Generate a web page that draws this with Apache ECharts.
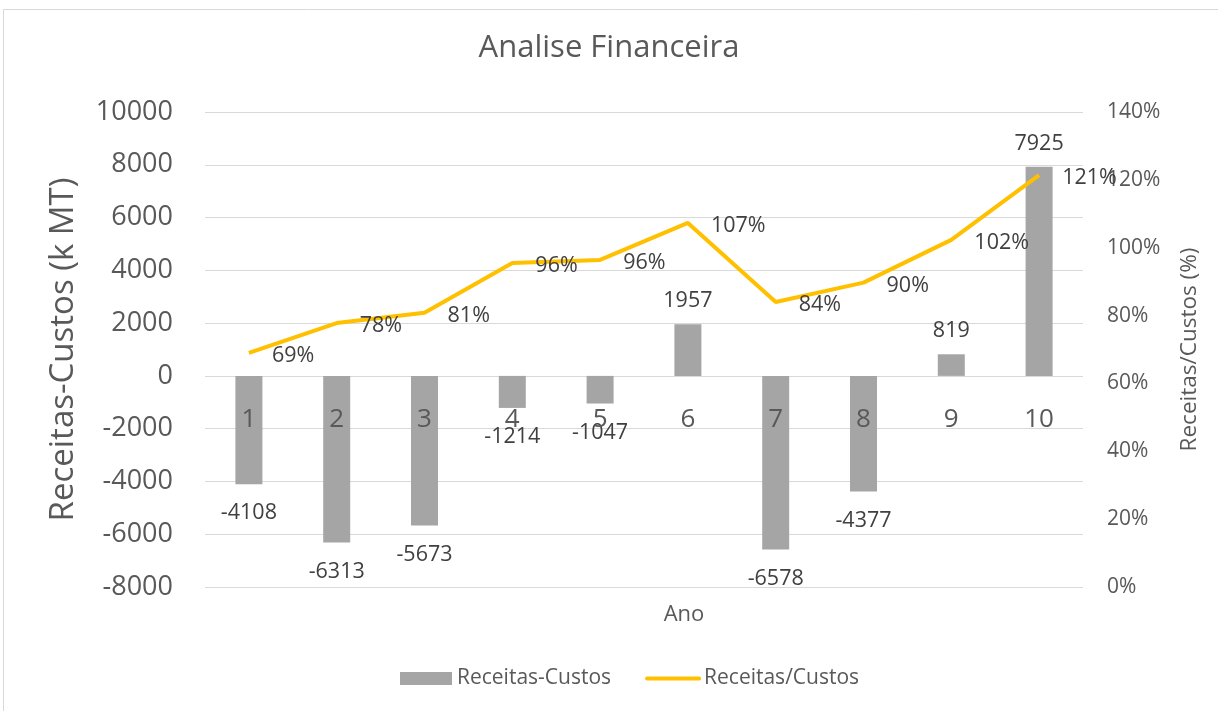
<!DOCTYPE html>
<html>
<head>
    <meta charset="utf-8"/>
    <style type="text/css">
        body, html {
            width: 100%;
            height: 100%;
            margin: 0;
            background: #fff;
        }

        #chart {
            width: 1218px;
            height: 711px;
        }
    </style>
    <script src="https://cdn.jsdelivr.net/npm/echarts@6/dist/echarts.min.js"></script>
    <title>Analise Financeira</title>
</head>
<body>
<div id="chart"></div>
<script type="text/javascript">
    // dados
    var anos = ['1', '2', '3', '4', '5', '6', '7', '8', '9', '10'];
    var saldo = [-4108, -6313, -5673, -1214, -1047, 1957, -6578, -4377, 819, 7925];
    var racio = [0.69, 0.778, 0.808, 0.955, 0.964, 1.073, 0.84, 0.897, 1.023, 1.214];

    var fonte = '"Open Sans", Lato, sans-serif';
    var cinza = '#595959';

    var barData = saldo.map(function (v) {
        return {
            value: v,
            label: {position: v < 0 ? 'bottom' : 'top', distance: v < 0 ? 18 : 12}
        };
    });

    var myChart = echarts.init(document.getElementById('chart'));
    var option = {
        textStyle: {fontFamily: fonte},
        title: {
            text: 'Analise Financeira',
            left: 'center',
            top: 28,
            textStyle: {fontSize: 31, fontWeight: 'normal', color: cinza, fontFamily: fonte}
        },
        legend: {
            bottom: 17,
            left: 395,
            itemWidth: 52,
            itemHeight: 13,
            itemGap: 34,
            textStyle: {fontSize: 21, color: cinza},
            data: [
                {name: 'Receitas-Custos', icon: 'rect'},
                {name: 'Receitas/Custos', itemStyle: {opacity: 0}, lineStyle: {width: 4, color: '#ffc000', cap: 'round'}}
            ]
        },
        grid: {left: 205, right: 135, top: 112, bottom: 124, containLabel: false, outerBoundsMode: 'none'},
        xAxis: {
            type: 'category',
            data: anos,
            position: 'bottom',
            offset: -211, // eixo colocado no zero do eixo esquerdo
            z: 5,
            name: 'Ano',
            nameLocation: 'middle',
            nameGap: 228,
            nameTextStyle: {fontSize: 22, color: cinza, padding: [0, 0, 0, 80]},
            axisLine: {show: false, onZero: false},
            axisTick: {show: false},
            axisLabel: {fontSize: 26, color: cinza, margin: 31}
        },
        yAxis: [
            {
                type: 'value',
                min: -8000,
                max: 10000,
                interval: 2000,
                name: 'Receitas-Custos (k MT)',
                nameLocation: 'middle',
                nameGap: 125,
                nameTextStyle: {fontSize: 33, color: cinza},
                axisLine: {show: false},
                axisTick: {show: false},
                axisLabel: {
                    fontSize: 27, color: cinza, margin: 32,
                    formatter: function (v) {
                        return String(v);
                    }
                },
                splitLine: {lineStyle: {color: '#d9d9d9', width: 1}}
            },
            {
                type: 'value',
                min: 0,
                max: 1.4,
                interval: 0.2,
                name: 'Receitas/Custos (%)',
                nameLocation: 'middle',
                nameGap: 95,
                nameTextStyle: {fontSize: 22.5, color: cinza},
                axisLine: {show: false},
                axisTick: {show: false},
                splitLine: {show: false},
                axisLabel: {
                    fontSize: 21, color: cinza, margin: 24,
                    formatter: function (v) {
                        return Math.round(v * 100) + '%';
                    }
                }
            }
        ],
        series: [
            {
                name: 'Receitas-Custos',
                type: 'bar',
                data: barData,
                barWidth: 27,
                itemStyle: {color: '#a5a5a5'},
                label: {show: true, fontSize: 21.5, color: '#404040'}
            },
            {
                name: 'Receitas/Custos',
                type: 'line',
                yAxisIndex: 1,
                data: racio,
                symbol: 'circle',
                symbolSize: 0.1,
                itemStyle: {color: '#ffc000'},
                lineStyle: {color: '#ffc000', width: 4},
                label: {
                    show: true,
                    position: 'right',
                    distance: 23,
                    offset: [0, 3],
                    fontSize: 21.5,
                    color: '#404040',
                    formatter: function (p) {
                        return Math.round(p.value * 100) + '%';
                    }
                },
                z: 5
            }
        ],
        graphic: [{
            type: 'rect',
            shape: {x: 3.5, y: 9.5, width: 1230, height: 720},
            style: {fill: null, stroke: '#d9d9d9', lineWidth: 1},
            silent: true
        }]
    };
    myChart.setOption(option);
</script>
</body>
</html>
